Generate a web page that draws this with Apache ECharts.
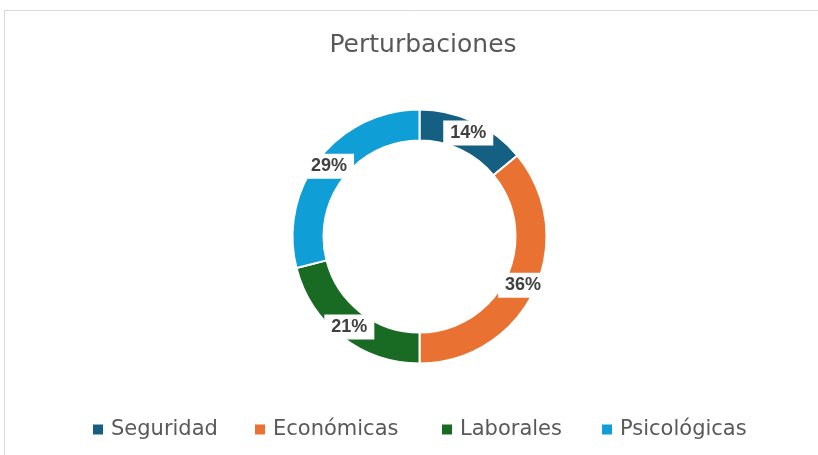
<!DOCTYPE html>
<html>
<head>
<meta charset="utf-8">
<script src="https://cdn.jsdelivr.net/npm/echarts@6/dist/echarts.min.js"></script>
<style>
  html, body { margin: 0; padding: 0; background: #fff; }
  #chart { width: 818px; height: 455px; }
</style>
</head>
<body>
<div id="chart"></div>
<script>
  // datos
  var categories = ['Seguridad', 'Económicas', 'Laborales', 'Psicológicas'];
  var values = [14, 36, 21, 29];
  var colors = ['#156082', '#E97132', '#196B24', '#0F9ED5'];
  var titleText = 'Perturbaciones';

  var chart = echarts.init(document.getElementById('chart'));

  var data = [];
  for (var i = 0; i < categories.length; i++) {
    data.push({ name: categories[i], value: values[i], itemStyle: { color: colors[i] } });
  }

  // una leyenda por elemento para fijar la posicion de cada uno
  var legendLeft = [93, 255, 442, 602];
  var legends = [];
  for (var j = 0; j < categories.length; j++) {
    legends.push({
      data: [categories[j]],
      left: legendLeft[j],
      top: 419,
      padding: 0,
      itemWidth: 10,
      itemHeight: 10,
      icon: 'rect',
      itemStyle: { borderWidth: 0 },
      textStyle: { fontFamily: 'DejaVu Sans', fontSize: 21, color: '#595959', padding: [0, 0, 0, 3] }
    });
  }

  var option = {
    animation: false,
    backgroundColor: '#fff',
    graphic: [{
      type: 'rect',
      shape: { x: 4.5, y: 10.5, width: 900, height: 600 },
      style: { fill: 'none', stroke: '#d9d9d9', lineWidth: 1 },
      silent: true
    }],
    title: {
      text: titleText,
      left: 418,
      textAlign: 'center',
      top: 28,
      textStyle: { fontFamily: 'DejaVu Sans', fontSize: 25, fontWeight: 'normal', color: '#595959' }
    },
    legend: legends,
    series: [{
      type: 'pie',
      center: [419.5, 236.5],
      radius: [96, 127],
      startAngle: 90,
      clockwise: true,
      avoidLabelOverlap: false,
      itemStyle: { borderColor: '#fff', borderWidth: 2 },
      label: {
        position: 'inside',
        formatter: function (p) { return Math.round(p.percent) + '%'; },
        fontFamily: 'Liberation Sans',
        fontSize: 18,
        fontWeight: 'bold',
        color: '#404040',
        backgroundColor: '#fff',
        padding: [4, 7, 3, 7]
      },
      labelLine: { show: false },
      emphasis: { disabled: true },
      data: data
    }]
  };

  chart.setOption(option);
</script>
</body>
</html>
